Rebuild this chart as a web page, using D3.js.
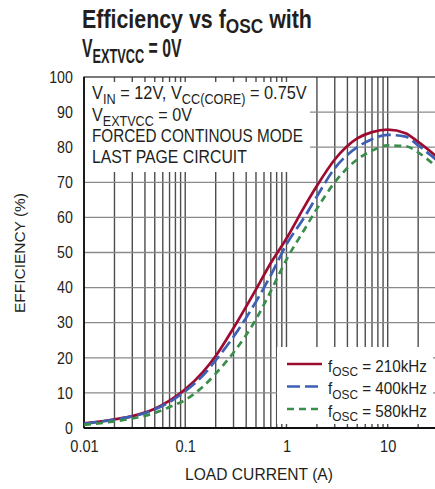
<!DOCTYPE html>
<html>
<head>
<meta charset="utf-8">
<script src="https://cdn.jsdelivr.net/npm/d3@7"></script>
<style>
    html, body { margin: 0; padding: 0; background: #fff; }
    svg { display: block; }
    text { font-family: "Liberation Sans", Arial, sans-serif; fill: #231f20; }
</style>
</head>
<body>
<div id="chart"></div>
<script>
'use strict';

//Load current (A) points
var loadCurrent = [0.01, 0.02, 0.03, 0.05, 0.07, 0.1, 0.15, 0.2, 0.3, 0.5, 0.7, 1, 1.5, 2, 3, 5, 7, 10, 15, 20, 30];
//Efficiency (%) for each switching frequency
var eff210 = [1.3, 2.5, 3.4, 5.5, 7.8, 11, 16, 20.5, 28.5, 39.5, 47, 54, 63, 69, 76.5, 82.5, 84.3, 85, 84, 81.5, 77.5];
var eff400 = [1.2, 2.4, 3.3, 5.3, 7.4, 10.5, 15, 19.3, 26, 36, 43.5, 52.3, 60, 66, 74, 80, 82.3, 83.5, 83, 80.5, 76.5];
var eff580 = [0.9, 1.9, 2.7, 4.3, 6, 8, 11.8, 15.5, 21.5, 31, 39, 48, 56.5, 62.5, 70, 76.5, 79, 80.5, 80.3, 78.5, 74.5];
var seriesNames = ['210kHz', '400kHz', '580kHz'];
var xTickValues = [0.01, 0.1, 1, 10];
var yTickValues = [0, 10, 20, 30, 40, 50, 60, 70, 80, 90, 100];

var width = 435,
    height = 489,
    condense = 0.86, //Narrow the Arial-like font toward the condensed face in the reference
    plot = { left: 84, right: 436, top: 77, bottom: 428 };

var svg = d3.select('#chart').append('svg')
    .attr('width', width)
    .attr('height', height);

var x = d3.scaleLog().domain([0.01, 30]).range([plot.left, plot.right]),
    y = d3.scaleLinear().domain([0, 100]).range([plot.bottom, plot.top]);

//Squeeze a group of text horizontally so it spans the wanted width
function fitText(g, targetWidth, anchorX) {
    var w = g.node().getBBox().width;
    if (w > 0) {
        g.attr('transform', 'translate(' + anchorX + ',0) scale(' + (targetWidth / w) + ',1) translate(' + (-anchorX) + ',0)');
    }
}

//Write a run of text parts, some of them subscripts
function richText(parent, xPos, yPos, parts, size, subSize, shift, weight) {
    var g = parent.append('g'),
        t = g.append('text')
            .attr('x', xPos)
            .attr('y', yPos)
            .attr('font-size', size)
            .attr('font-weight', weight || 'normal');
    parts.forEach(function (p) {
        var isSub = Array.isArray(p);
        t.append('tspan')
            .attr('font-size', isSub ? subSize : size)
            .attr('baseline-shift', isSub ? (-shift) + 'px' : null)
            .text(isSub ? p[0] : p);
    });
    return g;
}

/************************************ grid ************************************/
var minorX = [];
for (var e = -2; e <= 1; e++) {
    for (var m = 1; m <= 9; m++) {
        var v = m * Math.pow(10, e);
        if (v > 0.01 && v <= 30) {
            minorX.push(v);
        }
    }
}

svg.append('g').selectAll('line.vgrid')
    .data(minorX)
    .enter().append('line')
    .attr('x1', d => x(d)).attr('x2', d => x(d))
    .attr('y1', plot.top).attr('y2', plot.bottom)
    .attr('stroke', '#4d4d4d')
    .attr('stroke-width', 1.4);

svg.append('g').selectAll('line.hgrid')
    .data(yTickValues.slice(1, -1))
    .enter().append('line')
    .attr('x1', plot.left).attr('x2', plot.right)
    .attr('y1', d => y(d)).attr('y2', d => y(d))
    .attr('stroke', '#8a8a8a')
    .attr('stroke-width', 1.3);

//White panels behind the note and the legend
svg.append('rect').attr('x', plot.left + 1).attr('y', 82).attr('width', 225).attr('height', 90).attr('fill', '#fff');
svg.append('rect').attr('x', 277).attr('y', 347).attr('width', 156).attr('height', 77).attr('fill', '#fff');

//Frame
svg.append('rect')
    .attr('x', plot.left).attr('y', plot.top)
    .attr('width', plot.right - plot.left).attr('height', plot.bottom - plot.top)
    .attr('fill', 'none')
    .attr('stroke', '#333')
    .attr('stroke-width', 1.3);
svg.append('line')
    .attr('x1', plot.left).attr('x2', plot.right)
    .attr('y1', plot.bottom).attr('y2', plot.bottom)
    .attr('stroke', '#111').attr('stroke-width', 1.8);
svg.append('line')
    .attr('x1', plot.left).attr('x2', plot.left)
    .attr('y1', plot.top).attr('y2', plot.bottom)
    .attr('stroke', '#111').attr('stroke-width', 1.8);

/************************************ axes ************************************/
var xAxis = svg.append('g')
    .attr('transform', 'translate(0,' + plot.bottom + ')')
    .call(d3.axisBottom(x).tickValues(xTickValues).tickFormat(d3.format('~g')).tickSize(0).tickPadding(12));
xAxis.select('.domain').remove();
xAxis.selectAll('text')
    .attr('font-size', 17)
    .attr('font-family', '"Liberation Sans", Arial, sans-serif')
    .attr('fill', '#231f20')
    .attr('transform', 'scale(' + condense + ',1)');

var yAxis = svg.append('g')
    .attr('transform', 'translate(' + plot.left + ',0)')
    .call(d3.axisLeft(y).tickValues(yTickValues).tickSize(0).tickPadding(13));
yAxis.select('.domain').remove();
yAxis.selectAll('text')
    .attr('font-size', 16.5)
    .attr('font-family', '"Liberation Sans", Arial, sans-serif')
    .attr('fill', '#231f20')
    .attr('transform', 'scale(' + condense + ',1)');

var xTitle = svg.append('g');
xTitle.append('text')
    .attr('x', 259).attr('y', 480)
    .attr('text-anchor', 'middle')
    .attr('font-size', 16.5)
    .text('LOAD CURRENT (A)');
fitText(xTitle, 148, 259);

var yTitle = svg.append('g').attr('transform', 'translate(25,253) rotate(-90)');
var yTitleInner = yTitle.append('g');
yTitleInner.append('text')
    .attr('x', 0).attr('y', 0)
    .attr('text-anchor', 'middle')
    .attr('font-size', 15.5)
    .text('EFFICIENCY (%)');
fitText(yTitleInner, 120, 0);

/************************************ title & note ************************************/
fitText(richText(svg, 82, 28, ['Efficiency vs f', ['OSC'], ' with'], 26, 21, 6, 'bold'), 230, 82);
fitText(richText(svg, 82, 57, ['V', ['EXTVCC'], ' = 0V'], 26, 21, 6, 'bold'), 100, 82);

fitText(richText(svg, 92, 99, ['V', ['IN'], ' = 12V, V', ['CC(CORE)'], ' = 0.75V'], 18, 14, 5), 215, 92);
fitText(richText(svg, 92, 121, ['V', ['EXTVCC'], ' = 0V'], 18, 14, 5), 100, 92);
fitText(richText(svg, 92, 142, ['FORCED CONTINOUS MODE'], 18, 14, 5), 211, 92);
fitText(richText(svg, 92, 163, ['LAST PAGE CIRCUIT'], 18, 14, 5), 155, 92);

/************************************ curves ************************************/
var series = [
    { name: seriesNames[0], values: eff210, color: '#9d0c30', dash: null },
    { name: seriesNames[1], values: eff400, color: '#3d5fb4', dash: '13,5' },
    { name: seriesNames[2], values: eff580, color: '#3b8d4b', dash: '7,5' }
];

var line = d3.line()
    .x(d => x(d[0]))
    .y(d => y(d[1]))
    .curve(d3.curveMonotoneX);

svg.append('g').selectAll('path.curve')
    .data(series)
    .enter().append('path')
    .attr('d', s => line(loadCurrent.map((c, i) => [c, s.values[i]])))
    .attr('fill', 'none')
    .attr('stroke', s => s.color)
    .attr('stroke-width', 2.7)
    .attr('stroke-dasharray', s => s.dash);

/************************************ legend ************************************/
series.forEach(function (s, i) {
    var rowY = 364 + i * 22.5;
    svg.append('line')
        .attr('x1', 287).attr('x2', 322)
        .attr('y1', rowY).attr('y2', rowY)
        .attr('stroke', s.color)
        .attr('stroke-width', 2.7)
        .attr('stroke-dasharray', s.dash);
    fitText(richText(svg, 328, rowY + 8, ['f', ['OSC'], ' = ' + s.name], 16, 12.5, 4), 99, 328);
});
</script>
</body>
</html>
